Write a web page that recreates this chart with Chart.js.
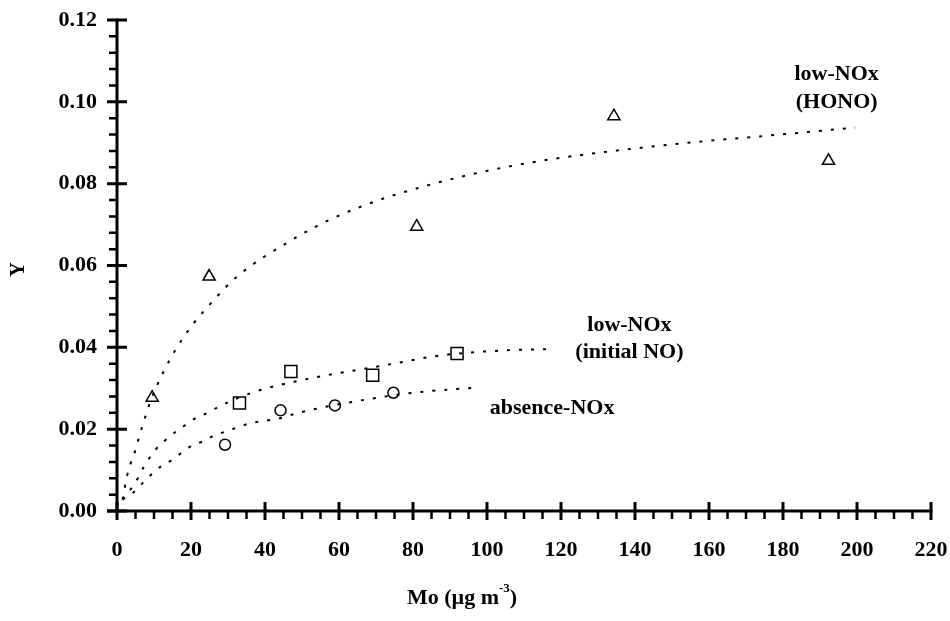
<!DOCTYPE html>
<html>
<head>
<meta charset="utf-8">
<script src="https://cdn.jsdelivr.net/npm/chart.js@4/dist/chart.umd.min.js"></script>
<style>
    html, body { margin: 0; padding: 0; background: #fff; }
</style>
</head>
<body>
<canvas id="chart" width="950" height="621"></canvas>
<script>
const honoX = [9.5, 24.9, 81.0, 134.3, 192.3];
const honoY = [0.0277, 0.0573, 0.0695, 0.0965, 0.0856];
const initNoX = [33.1, 47.0, 69.1, 91.9];
const initNoY = [0.0264, 0.0341, 0.0332, 0.0385];
const absenceX = [29.2, 44.2, 58.9, 74.7];
const absenceY = [0.0162, 0.0246, 0.0258, 0.0289];

// Fitted curves
const honoFitX = [1.5, 2.7, 3.6, 4.8, 5.7, 6.6, 7.7, 9.2, 10.7, 14.3, 17.5, 21.0, 26.0, 32.3, 46.8, 58.0, 70.2, 82.8, 95.4, 105.3, 120.6, 152.2, 179.2, 199.5];
const honoFitY = [0.0028, 0.0085, 0.0114, 0.0144, 0.0172, 0.0200, 0.0232, 0.0272, 0.0305, 0.0370, 0.0418, 0.0462, 0.0514, 0.0572, 0.0660, 0.0714, 0.0758, 0.0793, 0.0822, 0.0841, 0.0864, 0.0898, 0.0920, 0.0937];
const initNoFitX = [1.5, 3.6, 5.7, 7.2, 10.4, 13.2, 15.8, 18.3, 21.6, 24.3, 27.3, 36.8, 49.5, 61.2, 74.7, 87.3, 103.5, 117.5];
const initNoFitY = [0.0028, 0.0052, 0.0081, 0.0107, 0.0150, 0.0174, 0.0193, 0.0209, 0.0229, 0.0239, 0.0254, 0.0290, 0.0319, 0.0339, 0.0360, 0.0380, 0.0392, 0.0396];
const absenceFitX = [1.5, 4.5, 6.8, 9.5, 12.2, 14.9, 17.7, 20.3, 23.7, 26.6, 29.7, 33.3, 36.8, 43.2, 49.5, 65.7, 81.0, 97.7];
const absenceFitY = [0.0028, 0.0046, 0.0067, 0.0091, 0.0111, 0.0125, 0.0144, 0.0160, 0.0172, 0.0186, 0.0195, 0.0207, 0.0216, 0.0225, 0.0241, 0.0270, 0.0290, 0.0302];

// Axes
const X_MIN = 0, X_MAX = 220, X_STEP = 20, X_MINOR = 5;
const Y_MIN = 0, Y_MAX = 0.12, Y_STEP = 0.02, Y_MINOR = 0.004;

// Curve labels: [text, x, y] in data units
const CURVE_LABELS = [
    ['low-NOx', 194.5, 0.1068],
    ['(HONO)', 194.5, 0.0998],
    ['low-NOx', 138.5, 0.0454],
    ['(initial NO)', 138.5, 0.0388],
    ['absence-NOx', 117.6, 0.0251]
];

const FONT = "'Liberation Serif', 'Times New Roman', serif";
const toPoints = (xs, ys) => xs.map((x, i) => ({ x: x, y: ys[i] }));

function fitLine(xs, ys) {
    return {
        data: toPoints(xs, ys),
        showLine: true,
        borderColor: '#000',
        borderWidth: 2,
        borderDash: [3, 9],
        pointRadius: 0,
        cubicInterpolationMode: 'monotone',
        fill: false
    };
}

function markers(xs, ys, style, radius) {
    return {
        data: toPoints(xs, ys),
        showLine: false,
        pointStyle: style,
        pointRadius: radius,
        pointBorderColor: '#000',
        pointBackgroundColor: '#fff',
        pointBorderWidth: 1.5
    };
}

// Hand-drawn axes: thick lines, major ticks crossing, minor ticks outside
const axesPlugin = {
    id: 'axes',
    afterDatasetsDraw(chart) {
        const { ctx, chartArea: a, scales: { x, y } } = chart;
        ctx.save();
        ctx.strokeStyle = '#000';
        ctx.lineWidth = 3;
        ctx.beginPath();
        ctx.moveTo(a.left, a.top - 1.5);
        ctx.lineTo(a.left, a.bottom);
        ctx.moveTo(a.left - 10, a.bottom);
        ctx.lineTo(a.right + 1.5, a.bottom);
        ctx.stroke();

        // major ticks
        ctx.beginPath();
        for (let v = X_MIN; v <= X_MAX + 1e-9; v += X_STEP) {
            const px = x.getPixelForValue(v);
            ctx.moveTo(px, a.bottom - 9);
            ctx.lineTo(px, a.bottom + 9);
        }
        for (let i = 0; i <= Math.round((Y_MAX - Y_MIN) / Y_STEP); i++) {
            const py = y.getPixelForValue(Y_MIN + i * Y_STEP);
            ctx.moveTo(a.left - 10, py);
            ctx.lineTo(a.left + 10, py);
        }
        ctx.stroke();

        // minor ticks
        ctx.lineWidth = 2.5;
        ctx.beginPath();
        for (let v = X_MIN + X_MINOR; v < X_MAX; v += X_MINOR) {
            if (v % X_STEP === 0) continue;
            const px = x.getPixelForValue(v);
            ctx.moveTo(px, a.bottom);
            ctx.lineTo(px, a.bottom + 8);
        }
        const nMinor = Math.round((Y_MAX - Y_MIN) / Y_MINOR);
        const perMajor = Math.round(Y_STEP / Y_MINOR);
        for (let i = 1; i < nMinor; i++) {
            if (i % perMajor === 0) continue;
            const py = y.getPixelForValue(Y_MIN + i * Y_MINOR);
            ctx.moveTo(a.left - 8, py);
            ctx.lineTo(a.left, py);
        }
        ctx.stroke();

        // curve labels
        ctx.fillStyle = '#000';
        ctx.font = `bold 22px ${FONT}`;
        ctx.textAlign = 'center';
        ctx.textBaseline = 'middle';
        CURVE_LABELS.forEach(([t, lx, ly]) => {
            ctx.fillText(t, x.getPixelForValue(lx), y.getPixelForValue(ly));
        });

        // y title
        ctx.save();
        ctx.translate(19, (a.top + a.bottom) / 2 + 4);
        ctx.rotate(-Math.PI / 2);
        ctx.font = `bold 20px ${FONT}`;
        ctx.fillText('Y', 0, 0);
        ctx.restore();

        // x title with superscript
        const main = 'Mo (\u00b5g m';
        const sup = '-3';
        const tail = ')';
        ctx.font = `bold 22px ${FONT}`;
        const wMain = ctx.measureText(main).width;
        const wTail = ctx.measureText(tail).width;
        ctx.font = `bold 13px ${FONT}`;
        const wSup = ctx.measureText(sup).width;
        const total = wMain + wSup + wTail;
        let tx = 462 - total / 2;
        const ty = 598;
        ctx.textAlign = 'left';
        ctx.font = `bold 22px ${FONT}`;
        ctx.fillText(main, tx, ty);
        tx += wMain;
        ctx.font = `bold 13px ${FONT}`;
        ctx.fillText(sup, tx, ty - 9);
        tx += wSup;
        ctx.font = `bold 22px ${FONT}`;
        ctx.fillText(tail, tx, ty);
        ctx.restore();
    }
};

const tickFont = { family: FONT, size: 22, weight: 'bold' };

// fixed box sizes so the plot area lands where the original has it
function fixX(s) {
    s.height = 110;
    s.paddingLeft = s.paddingRight = s.paddingTop = s.paddingBottom = 0;
}
function fixY(s) {
    s.width = 117;
    s.paddingLeft = s.paddingRight = s.paddingTop = s.paddingBottom = 0;
}

new Chart(document.getElementById('chart').getContext('2d'), {
    type: 'scatter',
    data: {
        datasets: [
            fitLine(honoFitX, honoFitY),
            fitLine(initNoFitX, initNoFitY),
            fitLine(absenceFitX, absenceFitY),
            markers(honoX, honoY, 'triangle', 7),
            markers(initNoX, initNoY, 'rect', 8.5),
            markers(absenceX, absenceY, 'circle', 5.5)
        ]
    },
    options: {
        responsive: false,
        animation: false,
        layout: { padding: { top: 20, right: 19, bottom: 0, left: 0 } },
        plugins: { legend: { display: false }, tooltip: { enabled: false } },
        scales: {
            x: {
                type: 'linear',
                min: X_MIN,
                max: X_MAX,
                afterFit: fixX,
                grid: { display: false, drawTicks: false },
                border: { display: false },
                ticks: { stepSize: X_STEP, color: '#000', font: tickFont, padding: 26, maxRotation: 0 }
            },
            y: {
                type: 'linear',
                min: Y_MIN,
                max: Y_MAX,
                afterFit: fixY,
                grid: { display: false, drawTicks: false },
                border: { display: false },
                ticks: { stepSize: Y_STEP, color: '#000', font: tickFont, padding: 20,
                         callback: (v) => v.toFixed(2) }
            }
        }
    },
    plugins: [axesPlugin]
});
</script>
</body>
</html>
